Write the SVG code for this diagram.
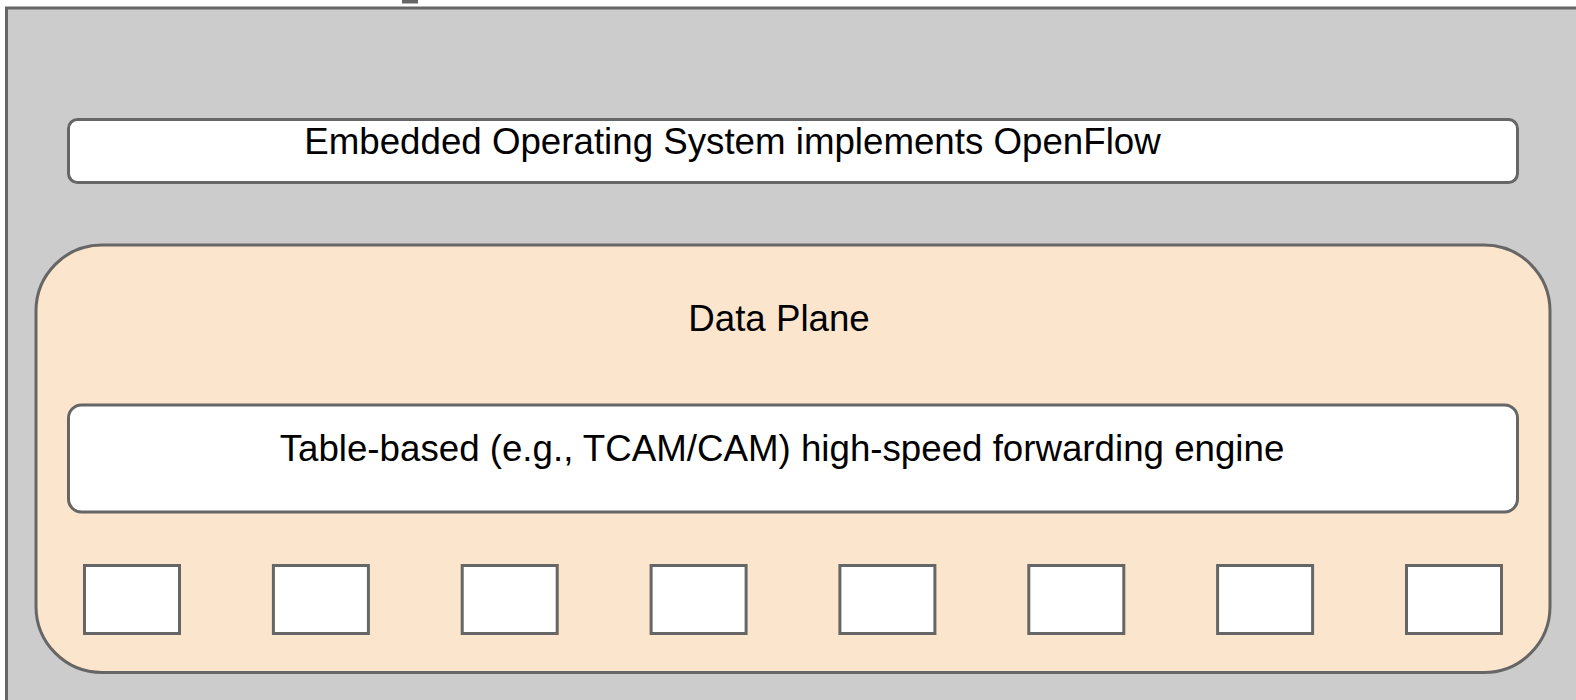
<svg xmlns="http://www.w3.org/2000/svg" width="1576" height="700" viewBox="0 0 1576 700">
<style>
.box{stroke:#666666;stroke-width:3}
.w{fill:#ffffff}
.t{font-family:"Liberation Sans",Arial,sans-serif;font-size:36.7px;fill:#000000;text-anchor:middle}
</style>
<rect width="1576" height="700" fill="#ffffff"/>
<g id="switch">
<rect class="box" x="6.5" y="8" width="1620" height="740" fill="#cccccc"/>
<rect x="402" y="0" width="16" height="3.5" fill="#666666"/>
</g>
<g id="os">
<rect class="box w" x="68.5" y="119.5" width="1449" height="63" rx="9"/>
<text class="t" x="732.5" y="154">Embedded Operating System implements OpenFlow</text>
</g>
<g id="dataplane">
<rect class="box" x="36" y="245" width="1514" height="427.5" rx="66" fill="#fce5cd"/>
<text class="t" x="779" y="330.5">Data Plane</text>
</g>
<g id="engine">
<rect class="box w" x="68.5" y="405" width="1449" height="107" rx="13"/>
<text class="t" x="782" y="461">Table-based (e.g., TCAM/CAM) high-speed forwarding engine</text>
</g>
<g id="ports">
<rect id="port1" class="box w" x="84.5" y="565.5" width="95" height="68"/>
<rect id="port2" class="box w" x="273.4" y="565.5" width="95" height="68"/>
<rect id="port3" class="box w" x="462.2" y="565.5" width="95" height="68"/>
<rect id="port4" class="box w" x="651.1" y="565.5" width="95" height="68"/>
<rect id="port5" class="box w" x="839.9" y="565.5" width="95" height="68"/>
<rect id="port6" class="box w" x="1028.8" y="565.5" width="95" height="68"/>
<rect id="port7" class="box w" x="1217.6" y="565.5" width="95" height="68"/>
<rect id="port8" class="box w" x="1406.5" y="565.5" width="95" height="68"/>
</g>
<g id="connectors"/>
</svg>
